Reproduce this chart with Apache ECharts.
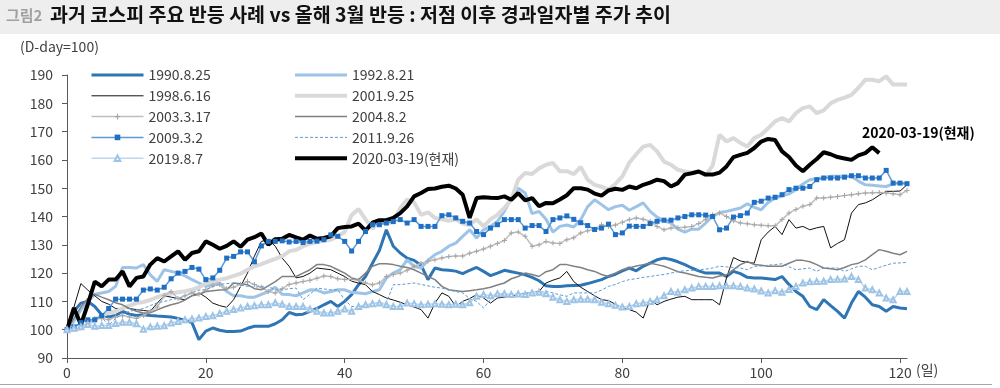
<!DOCTYPE html>
<html><head><meta charset="utf-8">
<script src="https://cdn.jsdelivr.net/npm/echarts@6/dist/echarts.min.js"></script>
<style>html,body{margin:0;padding:0;background:#fff}#c{width:1000px;height:388px}</style>
</head><body><div id="c"></div>
<script>
const titlePrefix = '그림2';
const titleText = '과거 코스피 주요 반등 사례 vs 올해 3월 반등 : 저점 이후 경과일자별 주가 추이';
const unitLabel = '(D-day=100)';
const xUnit = '(일)';
const nowLabel = '2020-03-19(현재)';
const days = Array.from({length: 122}, (_, i) => String(i));
const xTickStep = 20;
const yMin = 90, yMax = 190, yStep = 10;

const names = ['1990.8.25','1992.8.21','1998.6.16','2001.9.25','2003.3.17','2004.8.2','2009.3.2','2011.9.26','2019.8.7','2020-03-19(현재)'];

const s1990 = [100,106.5,109.4,110,108.2,105.3,104.5,105,106.5,105.5,
105,105.3,105,104.8,104.7,104.5,104,103.3,102.5,96.5,
99.5,100.6,99.8,99.4,99.4,99.5,100.5,101.2,101.2,101.2,
102.1,103.5,106.1,105.3,105.5,106.5,107.5,108.8,110,108.2,
110,112.4,115.9,118.8,123.5,128,135.3,129.5,127.1,125.3,
124.5,122.8,117.7,121.8,121.2,121,120.7,119.8,121,122,
120.6,119.1,120,121,120.5,120,119.4,118.5,117.3,115.5,
115.3,115.3,115.5,115.6,115.7,116.3,117,117.7,118.8,119.6,
120.8,121.8,120.8,122.4,123.5,124.7,125.3,124.8,124,123,
121.8,120.8,120,120,120,118.8,120.6,119.8,118.5,118.3,
118.3,118,117.7,118.8,116,113.5,111.8,108.2,107.1,110.6,
108.5,106.5,104.1,109.4,113.5,111.5,108.8,108.2,106.5,108.2,
107.7,107.4];

const s1992 = [100,103,107,110,112.5,113,113.5,115.3,122,122,
121.8,123,119.4,117.1,121.2,120.6,120,119,117.7,116.5,
115.3,116,116.5,113.5,112,112,111.5,111.5,112.5,113.5,
115,112.5,112.4,112,113,114.1,114,113,113.5,114.1,
114.1,113.2,113,112.7,113.5,114.1,118.3,120,121.2,124.7,
122.4,121.8,124.5,126.5,127.7,129.5,130.6,133,135.3,132.4,
135.3,136.5,138.3,141.8,146.5,150,148.3,141,141.8,139,
134.5,136.5,137,136.3,138.9,143.5,145.9,144.2,142.4,143.5,
144,142.2,143.5,144.8,141.8,139.8,138.5,137.7,135.5,134.5,
135.5,135.5,137.7,140,141.4,141.8,142.4,143,144.5,143.2,
142.4,145,146.5,147.3,148,149.5,151.5,153,153.4,153.6,
154.2,154.2,154.2,154.2,152.5,151.2,151,150.8,150.6,151.5,
151.8,151.6];

const s1998 = [100,108,116.3,114,112,110,109,107.5,107.5,107.5,
107.1,106.8,106.5,109.4,112,111.5,111,110.6,112,113,
111.5,109.4,108.5,107.9,110.6,115.3,120,126,131.2,131.8,
129.5,125.3,122.4,118.3,118.8,120,121.8,121.5,121.2,120,
118.8,117.1,116.5,115.9,113.5,112.4,111.2,110.5,109.7,108.8,
108,107.1,104.1,109.4,113,111.8,108.2,110,111,112.4,
111.2,109.4,111.2,111.5,112,112.4,112.7,113,113.5,116.5,
117.5,118.3,120.6,117,115,113.5,112,110.6,110.3,109,
107.7,107.1,106.2,104.1,110.6,108.8,110,110.8,111.5,111.8,
110.6,110.6,110.6,110.6,108.8,118.3,125.5,124.3,123.8,123.5,
131.8,134.5,136.5,133.6,138.9,135.9,136.5,135.3,136,136.5,
128.9,130.5,131.8,141.2,144.2,144.8,145.9,147.5,148.9,148.9,
149,151.2];

const s2001 = [100,100,100.5,102,103.5,105,106,106.5,107.5,108.5,
109.4,109.8,110.5,111.5,112.4,112.8,113.2,113.6,114.1,115,
116.3,117.2,117.7,118.2,119,119.8,121.2,122.4,123.2,124.1,
125,126,127.7,128.2,129.5,130.4,131,131.5,131.8,133,
134.5,140.5,142.6,139,135.6,138.6,137.5,138,143,146,
145,140.6,141.5,139.5,139,138.5,139,137.5,137,139,
136.5,139,140.6,143,146,153,155.4,155,157,158.3,
158.9,156,156,155,157.5,153,151.2,150.5,149.5,151.5,
154.2,159,162,164.7,165.3,163,159.4,158.3,156.5,155.9,
155.4,155.9,154.5,158,168.9,166.5,167.7,166,164.7,167.7,
168.9,171.2,173.6,174.8,173.6,176.5,178.3,178.9,176.5,177.5,
180,181.2,182,183,185.5,188.3,188.3,187.8,189.5,186.6,
186.6,186.6];

const s2003 = [100,100.5,101,102,104,104,103.5,104.5,105,104.5,
104,105,106.5,108,112,113.5,111,112,113,112.5,
114,115.5,116,114.5,115,116,117,116,115,113.5,
113,114.5,116,116.5,117,117.5,118.2,119,118.8,118,
117.7,117.7,117.5,116.5,115.9,116.5,118.8,119.5,120,121,
122.4,123.5,124.2,124.7,125.3,125.9,126,126,127,127.7,
128.5,129.5,130.5,131.5,134.2,134.5,133,129.5,130,131.2,
130.6,130.5,131.8,132.5,134.2,135,135.5,137.1,136.5,137,
138,138.9,139.5,139,138.3,136.5,135.3,135.9,136,136.2,
136.5,137.5,139,140.6,141.2,140,138.5,137.7,137.4,137.1,
136.9,136.7,136.7,138.9,141.2,142.5,143.6,144.2,146.5,146.5,
146.8,147.1,147.4,147.7,148,148.3,148.4,148.5,148.3,148,
147.7,149.2];

const s2004 = [100,104,108,111,112.5,111.5,110.6,109.5,108.8,107.5,
106.5,105.9,106,107,108,108.8,109.4,110.5,112,112.4,
113.5,113.8,114,114.1,116.5,116.2,115.9,114.5,114.1,115.5,
117,118.8,118.8,118.8,120,121.2,123,123,122.4,121.2,
120,118.3,117.7,120,122.4,123.3,123.3,123,122.4,122,
121.2,120,118.8,117.7,115.3,114.1,113.8,113.5,113.8,114.1,
114.5,115,115.8,116.5,118,118.8,120,119.5,118.8,120.5,
121.2,123,123,122.4,122,121.2,120.6,119.5,118.8,120,
121.2,121.8,122.5,123,123.5,123,122.4,121.5,120.5,120,
119.4,118.8,118.5,118.3,119,119.4,121.2,123,124.1,123,
122.8,122.4,122.4,122.4,123.5,124.5,124.5,124,123,121.8,
121.5,121.2,122,123,123.5,124.7,126.5,128.3,127.7,127,
126.5,127.7];

const s2009 = [100,101,102.5,103.5,103.5,105,107.5,110.8,110.8,110.8,
110.8,114,114.4,114,115,118,120,120.6,122,121.4,
117.7,118.3,121,125.3,125.9,127.5,127.5,124,129.6,131.2,
131.2,131.4,131,131.2,130.8,131.2,131.3,131.8,133.5,133,
131.2,127.8,131.2,134.7,137.1,137.1,137.7,138.2,138.9,137.7,
138.9,136.5,136.5,136.5,140.3,140.6,139.5,138.3,137.7,134.7,
133.6,135.9,137.1,138.9,138.9,138.9,135.9,136.8,136.8,134.7,
138.9,139.5,140.2,139,137.8,136.8,135.4,135.9,137.3,133.6,
134.2,136.6,136.5,136.5,137.5,138.3,138.7,138.7,139.5,140,
140.6,140.6,140.5,140,135.3,135.9,139.8,140.3,141.2,145,
145.4,146.5,146.8,147.7,149.5,150,150,150.6,153,153.6,
153.6,153.6,153.9,154.4,154.4,153.6,153.6,153.6,156.3,151.8,
151.8,151.6];

const s2011 = [100,101,102,103,104,104.5,101.5,104,105.5,106.5,
107,107.5,108.5,109.5,110,110.6,111,112,113,114,
114.1,115.3,116,116.3,116.5,115.8,115.3,115,115.3,115.3,
114.1,114.1,114.5,114.7,110.6,112.5,114.7,114.4,114.1,114.1,
110.6,108.2,108.2,108.2,109.4,109.4,109.4,115.9,115.9,116.2,
116.5,116,115.5,115,114.7,114,113.5,113,111,110,
107.7,110.6,112.4,112.4,112.4,112.6,113,113,113.2,113.5,
113,112.3,111.8,113,113,113,113,114,115.3,116,
117,117.7,118,118.5,118.8,119.2,119.5,120,120.6,120.8,
121,121.2,121.4,121.8,122.4,122.2,122,121.8,121.2,122.4,
122.5,122.8,123,123.3,122.2,121.2,121.5,121.8,120.6,121.8,
121.8,121.8,120.6,121.5,122.4,122.4,121.2,122,122.8,123.5,
123.6,123.8];

const s2019 = [100,100.5,101,101.8,101.2,101.5,101.5,102.2,102.6,102.6,
102.1,100.2,101,101.2,101.4,102.4,102.9,103.5,103.8,104.1,
104.7,104.9,105.7,106.5,107.1,107.7,108.2,108.5,108.8,108.8,
109.5,109,108.2,108.2,108.2,107.3,106.5,105.9,105.9,106.5,
107.3,106.5,108.2,108.8,109.2,109.4,108.8,108.2,108.2,109.4,
109.2,108.8,109,109.2,109,108.8,109,108.8,109.5,111.8,
112.4,112,112.7,112.7,112.4,112.6,112.4,113,113.2,112.7,
111.5,110.6,110,110.6,110.8,110.8,110.6,109.7,109.2,108.6,
108,108.2,109.2,109.4,110,110.6,112,113.5,113.2,114.1,
114.7,115.3,115.3,115.3,115.5,115.5,115.5,115.3,114.7,114.4,
113.7,113,113.8,113.2,114.2,115.3,116.5,116.9,117,117.1,
117.7,117.8,117.9,118.8,117.7,114.7,114.1,113,111.2,110.6,
113.5,113.5];

const s2020 = [100,107.7,101.8,109,117,115.3,117.7,117.7,120.6,115.3,
118.3,118.8,123,125.3,124.1,125.9,127.7,124.7,127.1,127.7,
131.2,130,128.6,129.6,131.2,129.3,131.8,132.7,134,130,
132,132.1,133.5,132.6,131.8,133.3,132.1,132.4,133,135.9,
136.3,136.5,137.5,135,137.8,138.7,138.7,139.5,141.2,143.6,
147.1,148.3,149.7,149.9,150.5,150.9,149.9,147.7,139.5,146.5,
146.8,146.6,146.5,147.1,145.9,148.3,145.7,146.5,143.6,144.8,
144.7,146,147.5,150,150,149.5,148.1,147.4,149.2,149.8,
149.4,150.6,150,151.2,152,153,152.5,150.6,151.8,154.8,
155.3,155.9,154.8,154.8,155.5,157.7,161,161.8,162.5,164.2,
166.5,167.4,167,163,161,158,156,158.3,160.3,162.7,
162,161,160.5,160,161.6,162.4,164.5,162.4];

const FONT = '"Noto Sans CJK KR","Noto Sans",sans-serif';
const plusPath = 'path://M2,0H3V2H5V3H3V5H2V3H0V2H2Z';

function line(name, data, color, width, extra) {
  return Object.assign({
    name, type: 'line', data, symbol: 'none', showSymbol: false,
    lineStyle: {color, width}, itemStyle: {color},
    animation: false, silent: true
  }, extra || {});
}

const series = [
  line(names[0], s1990, '#2e75b6', 3),
  line(names[1], s1992, '#9dc3e6', 3),
  line(names[2], s1998, '#111111', 1),
  line(names[3], s2001, '#d9d9d9', 4),
  line(names[4], s2003, '#bfbfbf', 1.5, {symbol: plusPath, showSymbol: true, showAllSymbol: true, symbolSize: 5, itemStyle: {color: '#a6a6a6'}}),
  line(names[5], s2004, '#808080', 1.5),
  line(names[6], s2009, '#5b9bd5', 1.5, {symbol: 'rect', showSymbol: true, showAllSymbol: true, symbolSize: 5, itemStyle: {color: '#1f6fc5'}}),
  line(names[7], s2011, '#5b9bd5', 1, {lineStyle: {color: '#5b9bd5', width: 1, type: [3, 2]}}),
  line(names[8], s2019, '#bdd7ee', 1.5, {symbol: 'emptyTriangle', showSymbol: true, showAllSymbol: true, symbolSize: 5, itemStyle: {color: '#9dc3e6', borderWidth: 1}}),
  line(names[9], s2020, '#000000', 4)
];

const markerSeries = [names[4], names[6], names[8]];
function legendItem(n) {
  return markerSeries.indexOf(n) >= 0 ? {name: n} : {name: n, itemStyle: {opacity: 0}};
}

const legendBase = {
  orient: 'vertical', itemWidth: 52, itemHeight: 7, itemGap: 6.8, padding: 0,
  textStyle: {fontSize: 14, color: '#404040', fontFamily: FONT, lineHeight: 14},
  lineStyle: {width: 'inherit'}, selectedMode: false, top: 68
};

const chart = echarts.init(document.getElementById('c'), null, {renderer: 'canvas'});
chart.setOption({
  backgroundColor: '#ffffff',
  animation: false,
  grid: {left: 67, right: 93, top: 75, bottom: 30},
  legend: [
    Object.assign({}, legendBase, {left: 90, data: [names[0], names[2], names[4], names[6], names[8]].map(legendItem)}),
    Object.assign({}, legendBase, {left: 293, data: [names[1], names[3], names[5], names[7], names[9]].map(legendItem)})
  ],
  xAxis: {
    type: 'category', data: days, boundaryGap: false,
    axisLine: {lineStyle: {color: '#595959', width: 1}},
    axisTick: {show: true, length: 5, interval: (i) => i % xTickStep === 0, lineStyle: {color: '#595959'}},
    axisLabel: {interval: (i) => i % xTickStep === 0, margin: 8, fontSize: 14, color: '#404040', fontFamily: FONT},
    splitLine: {show: false}
  },
  yAxis: {
    type: 'value', min: yMin, max: yMax, interval: yStep,
    axisLine: {show: true, lineStyle: {color: '#595959', width: 1}},
    axisTick: {show: true, length: 5, lineStyle: {color: '#595959'}},
    axisLabel: {margin: 14, fontSize: 14, color: '#404040', fontFamily: FONT},
    splitLine: {show: false}
  },
  series,
  graphic: [
    {type: 'rect', left: 0, top: 0, shape: {width: 1000, height: 34}, style: {fill: '#eeeeee'}, silent: true, z: -1},
    {type: 'text', left: 6, top: 8, style: {text: titlePrefix, fill: '#a0a0a0', font: 'bold 15px ' + FONT}},
    {type: 'text', left: 50, top: 5, style: {text: titleText, fill: '#111111', font: 'bold 19.5px ' + FONT}},
    {type: 'text', left: 20, top: 40, style: {text: unitLabel, fill: '#404040', font: '14px ' + FONT}},
    {type: 'text', left: 916, top: 363, style: {text: xUnit, fill: '#404040', font: '14px ' + FONT}},
    {type: 'text', left: 862, top: 126, style: {text: nowLabel, fill: '#000000', font: 'bold 14px ' + FONT}},
    {type: 'line', shape: {x1: 0, y1: 384.5, x2: 992, y2: 384.5}, style: {stroke: '#a6a6a6', lineWidth: 1}}
  ]
});
</script></body></html>
